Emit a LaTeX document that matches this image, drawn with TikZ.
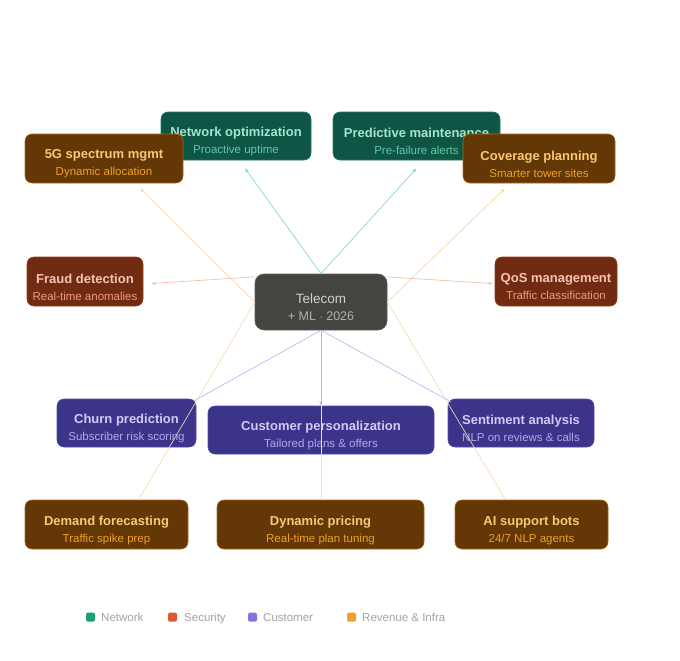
\documentclass[tikz,border=0pt]{standalone}
\usepackage{fontspec}
\setmainfont{Liberation Sans}
\usetikzlibrary{arrows.meta}
% fills, borders, titles, subtitles
\definecolor{tealF}{HTML}{0E5546}\definecolor{tealB}{HTML}{1D7A62}\definecolor{tealT}{HTML}{A8E3CF}\definecolor{tealS}{HTML}{5DCAA5}
\definecolor{brnF}{HTML}{633806}\definecolor{brnB}{HTML}{A8690F}\definecolor{brnT}{HTML}{FAC775}\definecolor{brnS}{HTML}{EF9F27}
\definecolor{redF}{HTML}{712B13}\definecolor{redB}{HTML}{993C1D}\definecolor{redT}{HTML}{F5C4B3}\definecolor{redS}{HTML}{F0997B}
\definecolor{purF}{HTML}{3C3489}\definecolor{purB}{HTML}{534AB7}\definecolor{purT}{HTML}{CECBF6}\definecolor{purS}{HTML}{AFA9EC}
\definecolor{gryF}{HTML}{444441}\definecolor{gryB}{HTML}{5F5E5A}\definecolor{gryT}{HTML}{D3D1C7}\definecolor{gryS}{HTML}{B4B2A9}
\definecolor{lgN}{HTML}{1D9E75}\definecolor{lgS}{HTML}{D85A30}\definecolor{lgC}{HTML}{7F77DD}\definecolor{lgR}{HTML}{EF9F27}
\definecolor{lgText}{HTML}{A3A3A3}
\newcommand{\mmbox}[8]{%
  \node[box=#6, minimum width=#4pt, minimum height=#5pt] (#1) at (#2,#3) {};
  \node[txt] (#1t) at ([yshift=-5.5pt]#1.center) {{\color{#6T}\fontsize{13}{17}\selectfont\bfseries #7}\\{\color{#6S}\fontsize{11.5}{17}\selectfont #8}};
}
\begin{document}
\begin{tikzpicture}[x=1pt,y=-1pt,
  box/.style={rounded corners=7pt, fill=#1F, draw=#1B, line width=0.6pt, inner sep=0pt},
  txt/.style={align=center, inner sep=0pt, font=\fontsize{12}{17}\selectfont},
  edge/.style={line width=0.65pt},
  tip/.style={-{Latex[length=4pt,width=3.5pt]}},
  lsq/.style={rounded corners=1.5pt, minimum size=9pt, inner sep=0pt},
  ltxt/.style={anchor=base west, inner sep=0pt, text=lgText, font=\fontsize{11.5}{13}\selectfont}]
\useasboundingbox (0,0) rectangle (680,661);
\fill[white] (0,0) rectangle (680,661);

% nodes
\mmbox{net}{236}{136}{150}{48}{teal}{Network optimization}{Proactive uptime}
\mmbox{pred}{416.5}{136}{167}{48}{teal}{Predictive maintenance}{Pre-failure alerts}
\mmbox{gfive}{104}{158.5}{158}{49}{brn}{5G spectrum mgmt}{Dynamic allocation}
\mmbox{cov}{539}{158.5}{152}{49}{brn}{Coverage planning}{Smarter tower sites}
\mmbox{fraud}{85}{281.5}{116}{49}{red}{Fraud detection}{Real-time anomalies}
\mmbox{qos}{556}{281.5}{122}{49}{red}{QoS management}{Traffic classification}
\mmbox{churn}{126.5}{423}{139}{48}{pur}{Churn prediction}{Subscriber risk scoring}
\mmbox{pers}{321}{430}{226}{48}{pur}{Customer personalization}{Tailored plans \& offers}
\mmbox{sent}{521}{423}{146}{48}{pur}{Sentiment analysis}{NLP on reviews \& calls}
\mmbox{demand}{106.5}{524.5}{163}{49}{brn}{Demand forecasting}{Traffic spike prep}
\mmbox{pricing}{320.5}{524.5}{207}{49}{brn}{Dynamic pricing}{Real-time plan tuning}
\mmbox{bots}{531.5}{524.5}{153}{49}{brn}{AI support bots}{24/7 NLP agents}

\node[box=gry, minimum width=132pt, minimum height=56pt, rounded corners=9pt] (tel) at (321,302) {};
\node[txt] (telt) at ([yshift=-5.5pt]tel.center) {{\color{gryT}\fontsize{13.5}{19}\selectfont Telecom}\\{\color{gryS}\fontsize{12.5}{19}\selectfont + ML $\cdot$ 2026}};

% edges
\draw[edge, tip, tealS!75] (tel.north) -- ([shift={(9,8)}]net.south);
\draw[edge, tip, tealS!75] (tel.north) -- ([shift={(0,8)}]pred.south);
\draw[edge, tip, brnS!42] (tel.west) -- ([shift={(36,5)}]gfive.south);
\draw[edge, tip, brnS!42] (tel.east) -- ([shift={(-34,5)}]cov.south);
\draw[edge, tip, redS!65] ([shift={(3,3)}]tel.north west) -- ([shift={(8,2)}]fraud.east);
\draw[edge, tip, redS!65] ([shift={(-3,3)}]tel.north east) -- ([shift={(-2,2)}]qos.west);
\draw[edge, purS!85] (tel.south) -- ([shift={(-2,2)}]churn.north east);
\draw[edge, purS!85] (tel.south) -- ([shift={(3,3)}]sent.north west);
\draw[edge, brnS!38] (tel.west) -- ([shift={(32,0)}]demand.north);
\draw[edge, brnS!38] (tel.south) -- ([shift={(0.5,0)}]pricing.north);
\draw[edge, brnS!38] (tel.east) -- ([shift={(-26,0)}]bots.north);
\draw[edge, tip, gryS!90] (tel.south) -- (pers.north);

% legend
\node[lsq, fill=lgN] (l1) at (90.5,617) {};
\node[ltxt] (l1t) at (101,621) {Network};
\node[lsq, fill=lgS] (l2) at (172.5,617) {};
\node[ltxt] (l2t) at (184,621) {Security};
\node[lsq, fill=lgC] (l3) at (252.5,617) {};
\node[ltxt] (l3t) at (263,621) {Customer};
\node[lsq, fill=lgR] (l4) at (351.5,617) {};
\node[ltxt] (l4t) at (362,621) {Revenue \& Infra};
\end{tikzpicture}
\end{document}
